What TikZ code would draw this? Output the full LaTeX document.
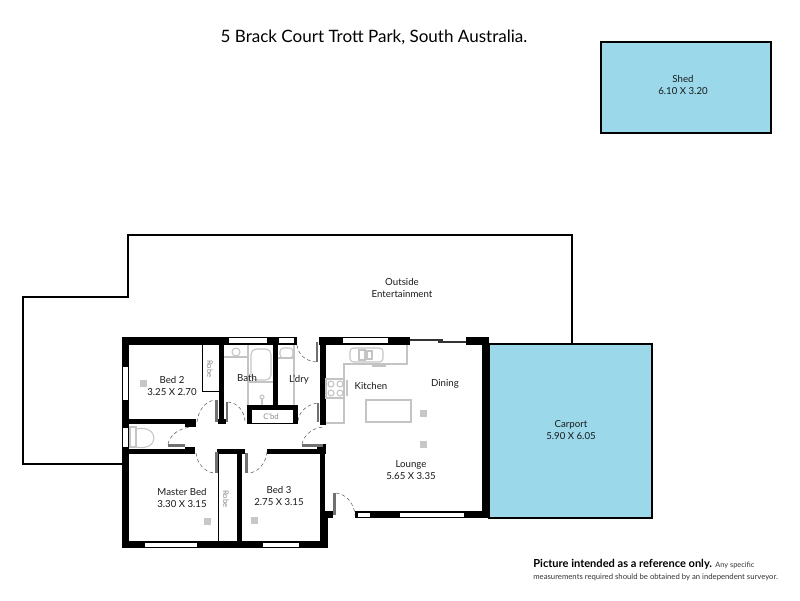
\documentclass[tikz,border=0pt]{standalone}
\usepackage{fontspec}
\setmainfont{Lato}
\definecolor{roofblue}{HTML}{9AD8EA}
\definecolor{fixgrey}{HTML}{C4C4C4}
\definecolor{leafgrey}{HTML}{707070}
\tikzset{
 wall/.style={fill=black},
 glass/.style={fill=white},
 fixture/.style={draw=fixgrey,line width=0.6pt},
 leaf/.style={fill=leafgrey},
 swing/.style={draw=black!65,line width=0.3pt,dash pattern=on 2pt off 1.5pt},
 roof/.style={draw=black,line width=1.2pt,fill=roofblue},
 sensor/.style={fill=black!22},
 lbl/.style={font=\fontsize{5.5}{6.9}\selectfont,align=center,text=black!90,inner sep=0pt},
 faint/.style={font=\fontsize{4.4}{5}\selectfont,text=black!45,inner sep=0pt}
}
\begin{document}
\begin{tikzpicture}[x=0.02cm,y=-0.02cm]
 \useasboundingbox (0,0) rectangle (800,600);
 % title
 \node[inner sep=0pt,font=\fontsize{9.7}{12}\selectfont] (title) at (374,37) {5 Brack Court Trott Park, South Australia.};
 % shed and carport
 \draw[roof](601,42) rectangle (771,133);
 \draw[roof](489,344) rectangle (652,518);
 % outside
 \draw[line width=1.2pt,line join=miter](572,343)--(572,235)--(128,235)--(128,297)--(23,297)--(23,464)--(122,464);
 % outer walls
 \fill[wall](122,337) rectangle (297,345);
 \fill[wall](319,337) rectangle (410,345);
 \fill[wall](466,337) rectangle (489,345);
 \fill[wall](482,337) rectangle (489,518);
 \fill[wall](355,511) rectangle (489,518);
 \fill[wall](122,337) rectangle (129,548);
 \fill[wall](122,541) rectangle (328,548);
 \fill[wall](320,518) rectangle (328,548);
 \fill[wall](320,449) rectangle (325,518);
 \fill[wall](320,511) rectangle (333,518);
 % inner walls
 \fill[wall](129,419) rectangle (190,424);
 \fill[wall](185,419) rectangle (196,427);
 \fill[wall](219,345) rectangle (224,424);
 \fill[wall](218,419) rectangle (226,424);
 \fill[wall](273,345) rectangle (278,405);
 \fill[wall](247,405) rectangle (298,410);
 \fill[wall](247,405) rectangle (252,424);
 \fill[wall](293,405) rectangle (298,424);
 \fill[wall](320,345) rectangle (326,425);
 \fill[wall](129,449) rectangle (195,454);
 \fill[wall](185,447) rectangle (195,454);
 \fill[wall](217,449) rectangle (245,454);
 \fill[wall](267,449) rectangle (325,454);
 \fill[wall](317,444) rectangle (326,454);
 \fill[wall](237,454) rectangle (242,541);
 \draw[line width=0.5pt](202,345)--(202,391)--(219,391);
 \draw[line width=0.5pt](218,454)--(218,541);
 \draw[line width=0.4pt](252,423)--(293,423);
 % windows
 \fill[glass](229,338) rectangle (267,343);
 \fill[glass](279,338) rectangle (294,343);
 \fill[glass](343,338) rectangle (388,343);
 \fill[glass](123,367) rectangle (128,400);
 \fill[glass](123,428) rectangle (128,447);
 \fill[glass](145,543) rectangle (197,547);
 \fill[glass](263,543) rectangle (299,547);
 \fill[glass](358,513) rectangle (370,517);
 \fill[glass](400,513) rectangle (464,517);
 % slider
 \draw[line width=0.6pt,draw=black!80](410,340)--(443,340);
 \draw[line width=0.6pt,draw=black!80](438,342)--(466,342);
 % door leaves
 \fill[leaf](215,452) rectangle (218,473);
 \fill[leaf](245,453) rectangle (248,473);
 \fill[leaf](215,400) rectangle (218,422);
 \fill[leaf](226,402) rectangle (228,422);
 \fill[leaf](168,444) rectangle (185,447);
 \fill[leaf](316,342) rectangle (318,362);
 \fill[leaf](317,403) rectangle (319,422);
 \fill[leaf](302,444) rectangle (323,447);
 \fill[leaf](333,493) rectangle (336,515);
 % door swings
 \draw[swing](196,453) .. controls (197,463) and (205,473) .. (215,473);
 \draw[swing](267,452) .. controls (266,463) and (258,473) .. (248,473);
 \draw[swing](197,422) .. controls (198,411) and (205,401) .. (215,400);
 \draw[swing](245,421) .. controls (244,411) and (238,403) .. (228,402);
 \draw[swing](168,444) .. controls (170,435) and (179,428) .. (191,427);
 \draw[swing](297,345) .. controls (298,354) and (305,361) .. (316,362);
 \draw[swing](298,421) .. controls (299,412) and (306,405) .. (317,403);
 \draw[swing](302,444) .. controls (304,435) and (312,428) .. (323,427);
 \draw[swing](336,493) .. controls (346,494) and (354,503) .. (355,515);
 % kitchen
 \draw[fixture](407,345)--(407,364)--(344,364)--(344,423)--(326,423);
 \draw[fixture,rounded corners=2pt](350,348) rectangle (383,362);
 \draw[fixture](359,350) rectangle (365,360);
 \draw[fixture](367,351) rectangle (372,359);
 \draw[fixture](372,366)--(386,366);
 \draw[fixture](326,379) rectangle (344,398);
 \draw[fixture](331,384) circle (3);
 \draw[fixture](340,384) circle (3);
 \draw[fixture](331,393) circle (3);
 \draw[fixture](340,393) circle (3);
 \draw[fixture](347,380)--(347,396);
 \draw[fixture](366,400) rectangle (411,422);
 % bath and laundry
 \draw[fixture](224,357)--(248,357);
 \draw[fixture](248,345)--(248,405);
 \draw[fixture](236,352) circle (4);
 \draw[fixture](248,382)--(273,382);
 \draw[fixture,rounded corners=3pt](251,349) rectangle (271,380);
 \draw[fixture](262,397) circle (2);
 \draw[fixture](262,399)--(262,405);
 \draw[fixture](278,358)--(294,358);
 \draw[fixture](294,345)--(294,405);
 \draw[fixture,rounded corners=2pt](280,348) rectangle (293,358);
 % toilet
 \draw[fixture](130,427) rectangle (136,447);
 \draw[fixture](136,429) .. controls (160,424) and (160,452) .. (136,447);
 % ceiling squares
 \fill[sensor](140,380) rectangle (147,387);
 \fill[sensor](204,518) rectangle (211,525);
 \fill[sensor](251,517) rectangle (258,524);
 \fill[sensor](420,410) rectangle (427,417);
 \fill[sensor](420,441) rectangle (427,448);
 % labels
 \node[lbl] (shed) at (683,85) {Shed\\6.10 X 3.20};
 \node[lbl] (carport) at (571,430) {Carport\\5.90 X 6.05};
 \node[lbl] (outside) at (402,288) {Outside\\Entertainment};
 \node[lbl] (bedtwo) at (172,386) {Bed 2\\3.25 X 2.70};
 \node[lbl] (bath) at (247,378) {Bath};
 \node[lbl] (ldry) at (299,380) {L'dry};
 \node[lbl] (kitchen) at (371,386) {Kitchen};
 \node[lbl] (dining) at (445,384) {Dining};
 \node[lbl] (lounge) at (411,470) {Lounge\\5.65 X 3.35};
 \node[lbl] (master) at (182,498) {Master Bed\\3.30 X 3.15};
 \node[lbl] (bedthree) at (279,496) {Bed 3\\2.75 X 3.15};
 \node[faint] (cbd) at (271,417) {C'bd};
 \node[faint,rotate=-90] (robea) at (210,369) {Robe};
 \node[faint,rotate=-90] (robeb) at (226,499) {Robe};
 % footer
 \node[anchor=west,inner sep=0pt,font=\fontsize{6.3}{7}\selectfont\bfseries] (note) at (533,564) {Picture intended as a reference only.};
 \node[anchor=west,inner sep=0pt,font=\fontsize{4.2}{5}\selectfont,text=black!80] (notea) at (715,565) {Any specific};
 \node[anchor=west,inner sep=0pt,font=\fontsize{4.4}{5}\selectfont,text=black!80] (noteb) at (533,577) {measurements required should be obtained by an independent surveyor.};
\end{tikzpicture}
\end{document}
